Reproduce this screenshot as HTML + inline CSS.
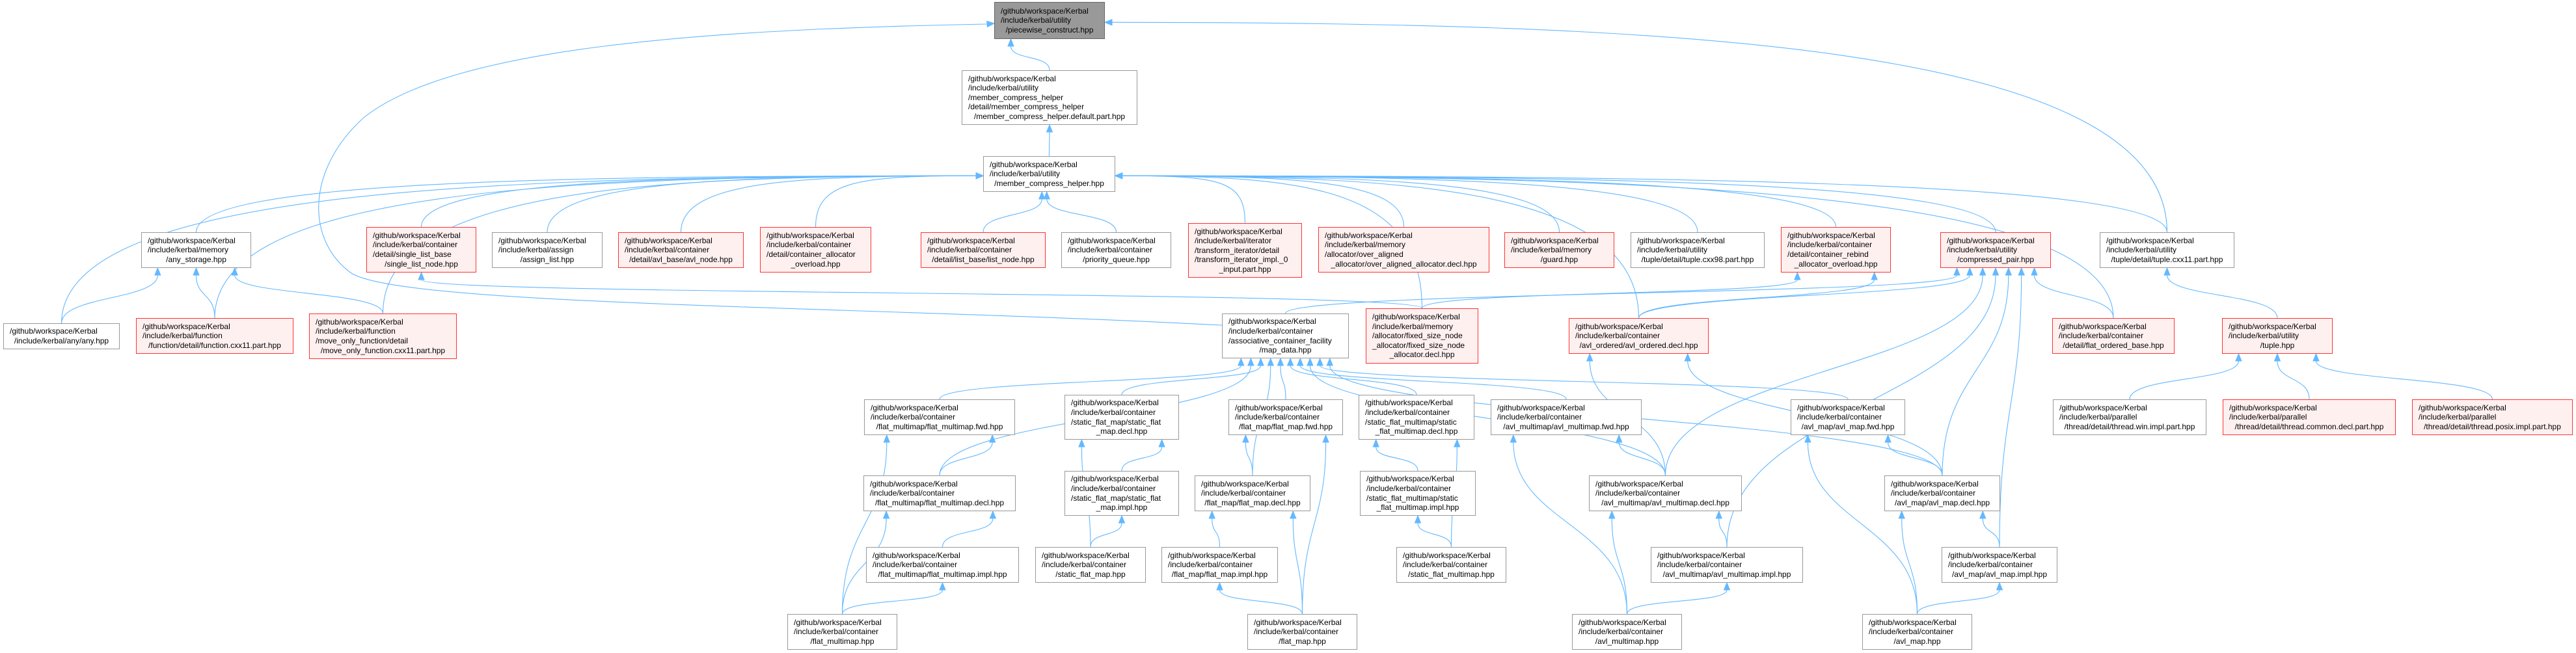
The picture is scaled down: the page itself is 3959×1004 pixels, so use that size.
<!DOCTYPE html>
<html><head><meta charset="utf-8">
<style>
html,body{margin:0;padding:0;background:#fff;}
#c{position:relative;width:3959px;height:1004px;overflow:hidden;background:#fff;}
svg{position:absolute;left:0;top:0;}
.n{position:absolute;box-sizing:border-box;border:1.5px solid #999;background:#fff;font-family:"Liberation Sans",Arial,sans-serif;font-size:12px;line-height:14.6px;color:#000;display:flex;flex-direction:column;justify-content:center;padding:0 9px;white-space:nowrap;}
.n div:last-child{text-align:center;}
.r{border-color:#f33;background:#fff0f0;}
.g{background:#999;border-color:#666;}
</style></head><body><div id="c">
<svg id="s" width="3959" height="1004"></svg>
<div class="n g" id="n0" style="left:1528px;top:3px;width:170px;height:57px"><div>/github/workspace/Kerbal</div><div>/include/kerbal/utility</div><div>/piecewise_construct.hpp</div></div>
<div class="n" id="n1" style="left:1478px;top:108px;width:270px;height:84px"><div>/github/workspace/Kerbal</div><div>/include/kerbal/utility</div><div>/member_compress_helper</div><div>/detail/member_compress_helper</div><div>/member_compress_helper.default.part.hpp</div></div>
<div class="n" id="n2" style="left:1511px;top:240px;width:203px;height:55px"><div>/github/workspace/Kerbal</div><div>/include/kerbal/utility</div><div>/member_compress_helper.hpp</div></div>
<div class="n" id="n3" style="left:217px;top:357px;width:169px;height:55px"><div>/github/workspace/Kerbal</div><div>/include/kerbal/memory</div><div>/any_storage.hpp</div></div>
<div class="n" id="n4" style="left:5px;top:497px;width:179px;height:40px"><div>/github/workspace/Kerbal</div><div>/include/kerbal/any/any.hpp</div></div>
<div class="n r" id="n5" style="left:209px;top:489px;width:242px;height:55px"><div>/github/workspace/Kerbal</div><div>/include/kerbal/function</div><div>/function/detail/function.cxx11.part.hpp</div></div>
<div class="n r" id="n6" style="left:475px;top:482px;width:227px;height:70px"><div>/github/workspace/Kerbal</div><div>/include/kerbal/function</div><div>/move_only_function/detail</div><div>/move_only_function.cxx11.part.hpp</div></div>
<div class="n r" id="n7" style="left:563px;top:349px;width:169px;height:70px"><div>/github/workspace/Kerbal</div><div>/include/kerbal/container</div><div>/detail/single_list_base</div><div>/single_list_node.hpp</div></div>
<div class="n" id="n8" style="left:756px;top:357px;width:170px;height:55px"><div>/github/workspace/Kerbal</div><div>/include/kerbal/assign</div><div>/assign_list.hpp</div></div>
<div class="n r" id="n9" style="left:950px;top:357px;width:193px;height:55px"><div>/github/workspace/Kerbal</div><div>/include/kerbal/container</div><div>/detail/avl_base/avl_node.hpp</div></div>
<div class="n r" id="n10" style="left:1168px;top:349px;width:171px;height:70px"><div>/github/workspace/Kerbal</div><div>/include/kerbal/container</div><div>/detail/container_allocator</div><div>_overload.hpp</div></div>
<div class="n r" id="n11" style="left:1415px;top:357px;width:192px;height:55px"><div>/github/workspace/Kerbal</div><div>/include/kerbal/container</div><div>/detail/list_base/list_node.hpp</div></div>
<div class="n" id="n12" style="left:1631px;top:357px;width:169px;height:55px"><div>/github/workspace/Kerbal</div><div>/include/kerbal/container</div><div>/priority_queue.hpp</div></div>
<div class="n r" id="n13" style="left:1826px;top:343px;width:175px;height:84px"><div>/github/workspace/Kerbal</div><div>/include/kerbal/iterator</div><div>/transform_iterator/detail</div><div>/transform_iterator_impl._0</div><div>_input.part.hpp</div></div>
<div class="n r" id="n14" style="left:2026px;top:349px;width:263px;height:70px"><div>/github/workspace/Kerbal</div><div>/include/kerbal/memory</div><div>/allocator/over_aligned</div><div>_allocator/over_aligned_allocator.decl.hpp</div></div>
<div class="n r" id="n15" style="left:2312px;top:357px;width:169px;height:55px"><div>/github/workspace/Kerbal</div><div>/include/kerbal/memory</div><div>/guard.hpp</div></div>
<div class="n" id="n16" style="left:2506px;top:357px;width:206px;height:55px"><div>/github/workspace/Kerbal</div><div>/include/kerbal/utility</div><div>/tuple/detail/tuple.cxx98.part.hpp</div></div>
<div class="n r" id="n17" style="left:2737px;top:349px;width:169px;height:70px"><div>/github/workspace/Kerbal</div><div>/include/kerbal/container</div><div>/detail/container_rebind</div><div>_allocator_overload.hpp</div></div>
<div class="n r" id="n18" style="left:2982px;top:357px;width:170px;height:55px"><div>/github/workspace/Kerbal</div><div>/include/kerbal/utility</div><div>/compressed_pair.hpp</div></div>
<div class="n" id="n19" style="left:3227px;top:357px;width:207px;height:55px"><div>/github/workspace/Kerbal</div><div>/include/kerbal/utility</div><div>/tuple/detail/tuple.cxx11.part.hpp</div></div>
<div class="n" id="n20" style="left:1878px;top:482px;width:195px;height:69px"><div>/github/workspace/Kerbal</div><div>/include/kerbal/container</div><div>/associative_container_facility</div><div>/map_data.hpp</div></div>
<div class="n r" id="n21" style="left:2099px;top:474px;width:173px;height:85px"><div>/github/workspace/Kerbal</div><div>/include/kerbal/memory</div><div>/allocator/fixed_size_node</div><div>_allocator/fixed_size_node</div><div>_allocator.decl.hpp</div></div>
<div class="n r" id="n22" style="left:2411px;top:489px;width:215px;height:55px"><div>/github/workspace/Kerbal</div><div>/include/kerbal/container</div><div>/avl_ordered/avl_ordered.decl.hpp</div></div>
<div class="n r" id="n23" style="left:3154px;top:489px;width:188px;height:55px"><div>/github/workspace/Kerbal</div><div>/include/kerbal/container</div><div>/detail/flat_ordered_base.hpp</div></div>
<div class="n r" id="n24" style="left:3415px;top:489px;width:170px;height:55px"><div>/github/workspace/Kerbal</div><div>/include/kerbal/utility</div><div>/tuple.hpp</div></div>
<div class="n" id="n25" style="left:1328px;top:614px;width:232px;height:55px"><div>/github/workspace/Kerbal</div><div>/include/kerbal/container</div><div>/flat_multimap/flat_multimap.fwd.hpp</div></div>
<div class="n" id="n26" style="left:1636px;top:607px;width:176px;height:69px"><div>/github/workspace/Kerbal</div><div>/include/kerbal/container</div><div>/static_flat_map/static_flat</div><div>_map.decl.hpp</div></div>
<div class="n" id="n27" style="left:1888px;top:614px;width:176px;height:55px"><div>/github/workspace/Kerbal</div><div>/include/kerbal/container</div><div>/flat_map/flat_map.fwd.hpp</div></div>
<div class="n" id="n28" style="left:2088px;top:607px;width:178px;height:69px"><div>/github/workspace/Kerbal</div><div>/include/kerbal/container</div><div>/static_flat_multimap/static</div><div>_flat_multimap.decl.hpp</div></div>
<div class="n" id="n29" style="left:2291px;top:614px;width:232px;height:55px"><div>/github/workspace/Kerbal</div><div>/include/kerbal/container</div><div>/avl_multimap/avl_multimap.fwd.hpp</div></div>
<div class="n" id="n30" style="left:2752px;top:614px;width:176px;height:55px"><div>/github/workspace/Kerbal</div><div>/include/kerbal/container</div><div>/avl_map/avl_map.fwd.hpp</div></div>
<div class="n" id="n31" style="left:3155px;top:614px;width:236px;height:55px"><div>/github/workspace/Kerbal</div><div>/include/kerbal/parallel</div><div>/thread/detail/thread.win.impl.part.hpp</div></div>
<div class="n r" id="n32" style="left:3416px;top:614px;width:266px;height:55px"><div>/github/workspace/Kerbal</div><div>/include/kerbal/parallel</div><div>/thread/detail/thread.common.decl.part.hpp</div></div>
<div class="n r" id="n33" style="left:3707px;top:614px;width:247px;height:55px"><div>/github/workspace/Kerbal</div><div>/include/kerbal/parallel</div><div>/thread/detail/thread.posix.impl.part.hpp</div></div>
<div class="n" id="n34" style="left:1327px;top:731px;width:234px;height:55px"><div>/github/workspace/Kerbal</div><div>/include/kerbal/container</div><div>/flat_multimap/flat_multimap.decl.hpp</div></div>
<div class="n" id="n35" style="left:1636px;top:724px;width:176px;height:69px"><div>/github/workspace/Kerbal</div><div>/include/kerbal/container</div><div>/static_flat_map/static_flat</div><div>_map.impl.hpp</div></div>
<div class="n" id="n36" style="left:1836px;top:731px;width:178px;height:55px"><div>/github/workspace/Kerbal</div><div>/include/kerbal/container</div><div>/flat_map/flat_map.decl.hpp</div></div>
<div class="n" id="n37" style="left:2090px;top:724px;width:178px;height:69px"><div>/github/workspace/Kerbal</div><div>/include/kerbal/container</div><div>/static_flat_multimap/static</div><div>_flat_multimap.impl.hpp</div></div>
<div class="n" id="n38" style="left:2442px;top:731px;width:235px;height:55px"><div>/github/workspace/Kerbal</div><div>/include/kerbal/container</div><div>/avl_multimap/avl_multimap.decl.hpp</div></div>
<div class="n" id="n39" style="left:2896px;top:731px;width:178px;height:55px"><div>/github/workspace/Kerbal</div><div>/include/kerbal/container</div><div>/avl_map/avl_map.decl.hpp</div></div>
<div class="n" id="n40" style="left:1331px;top:841px;width:235px;height:55px"><div>/github/workspace/Kerbal</div><div>/include/kerbal/container</div><div>/flat_multimap/flat_multimap.impl.hpp</div></div>
<div class="n" id="n41" style="left:1591px;top:841px;width:170px;height:55px"><div>/github/workspace/Kerbal</div><div>/include/kerbal/container</div><div>/static_flat_map.hpp</div></div>
<div class="n" id="n42" style="left:1785px;top:841px;width:179px;height:55px"><div>/github/workspace/Kerbal</div><div>/include/kerbal/container</div><div>/flat_map/flat_map.impl.hpp</div></div>
<div class="n" id="n43" style="left:2146px;top:841px;width:169px;height:55px"><div>/github/workspace/Kerbal</div><div>/include/kerbal/container</div><div>/static_flat_multimap.hpp</div></div>
<div class="n" id="n44" style="left:2537px;top:841px;width:234px;height:55px"><div>/github/workspace/Kerbal</div><div>/include/kerbal/container</div><div>/avl_multimap/avl_multimap.impl.hpp</div></div>
<div class="n" id="n45" style="left:2984px;top:841px;width:178px;height:55px"><div>/github/workspace/Kerbal</div><div>/include/kerbal/container</div><div>/avl_map/avl_map.impl.hpp</div></div>
<div class="n" id="n46" style="left:1210px;top:944px;width:169px;height:55px"><div>/github/workspace/Kerbal</div><div>/include/kerbal/container</div><div>/flat_multimap.hpp</div></div>
<div class="n" id="n47" style="left:1917px;top:944px;width:169px;height:55px"><div>/github/workspace/Kerbal</div><div>/include/kerbal/container</div><div>/flat_map.hpp</div></div>
<div class="n" id="n48" style="left:2416px;top:944px;width:169px;height:55px"><div>/github/workspace/Kerbal</div><div>/include/kerbal/container</div><div>/avl_multimap.hpp</div></div>
<div class="n" id="n49" style="left:2862px;top:944px;width:169px;height:55px"><div>/github/workspace/Kerbal</div><div>/include/kerbal/container</div><div>/avl_map.hpp</div></div>
</div>
<script>
(function(){
var E=[[1,0],[2,1],[19,0],
[3,2],[4,2],[5,2],[6,2],[7,2],[8,2],[9,2],[10,2],[11,2],[12,2],[13,2],[14,2],[15,2],[16,2],[17,2],[18,2],[19,2],[23,2],[21,2],[22,2],
[4,3],[5,3],[6,3],[21,7],
[20,18],[21,17],[22,18],[22,17],[23,18],
[25,20],[26,20],[27,20],[36,20],[28,20],[29,20],[30,20],[34,20],[38,20],[39,20],
[38,22],[39,22],[38,18],[39,18],[45,18],[44,18],
[34,25],[46,25],[46,34],[46,40],[40,34],
[35,26],[41,26],[41,35],
[36,27],[47,27],[42,36],[47,36],[47,42],
[37,28],[43,28],[43,37],
[38,29],[48,29],[48,38],[44,38],[48,44],
[39,30],[49,30],[49,39],[45,39],[49,45],
[31,24],[32,24],[33,24],[24,19]];
function box(i){var e=document.getElementById('n'+i);return{x:e.offsetLeft,y:e.offsetTop,w:e.offsetWidth,h:e.offsetHeight};}
var B=[];for(var i=0;i<50;i++)B.push(box(i));
var inc={};E.forEach(function(e){(inc[e[1]]=inc[e[1]]||[]).push(e[0]);});
var endX={};
for(var p in inc){var l=inc[p].slice().sort(function(a,b){return (B[a].x+B[a].w/2)-(B[b].x+B[b].w/2);});
 var b=B[p],n=l.length;l.forEach(function(c,k){endX[c+'_'+p]=b.x+b.w*(n==1?0.5:0.15+0.7*k/(n-1));});}
var out='';var col='#63b8ff';
function arrow(ex,ey,ux,uy){var al=11,aw=4.5;var bx=ex-ux*al,by=ey-uy*al;
 return '<polygon points="'+ex+','+ey+' '+(bx-uy*aw)+','+(by+ux*aw)+' '+(bx+uy*aw)+','+(by-ux*aw)+'" fill="'+col+'" stroke="'+col+'"/>';}
E.forEach(function(e){var c=B[e[0]],p=B[e[1]];
 var sx=c.x+c.w/2,sy=c.y;var pcx=p.x+p.w/2;
 var ex,ey,c1x,c1y,c2x,c2y,side=0;
 var dx=sx-pcx;var vy=sy-(p.y+p.h);
 if((e[1]==2||e[1]==0)&&Math.abs(dx)>1.2*vy+p.w/2){side=dx<0?-1:1;}
 if(side){ex=side<0?p.x:p.x+p.w;ey=p.y+p.h*0.55;c1x=sx;c1y=ey+(sy-ey)*0.1;c2x=ex+side*Math.abs(dx)*0.5;c2y=ey;}
 else{ex=endX[e[0]+'_'+e[1]];ey=p.y+p.h;c1x=sx;c1y=sy-(sy-ey)*0.5;c2x=ex;c2y=ey+(sy-ey)*0.45;}
 var ux=ex-c2x,uy=ey-c2y,L=Math.sqrt(ux*ux+uy*uy)||1;ux/=L;uy/=L;
 var al=11;var bx=ex-ux*al,by=ey-uy*al;
 out+='<path d="M'+sx+','+sy+' C'+c1x+','+c1y+' '+(c2x-ux*al)+','+(c2y-uy*al)+' '+bx+','+by+'" fill="none" stroke="'+col+'" stroke-width="1.1"/>';
 out+=arrow(ex,ey,ux,uy);
});
/* map_data -> piecewise_construct, long arc on the left */
out+='<path d="M1878,500 C1300,470 620,470 540,420 C470,370 470,260 560,180 C700,70 1100,45 1517,37" fill="none" stroke="'+col+'" stroke-width="1.1"/>';
out+=arrow(1528,36,0.996,-0.09);
document.getElementById('s').innerHTML=out;
})();
</script>
</body></html>
